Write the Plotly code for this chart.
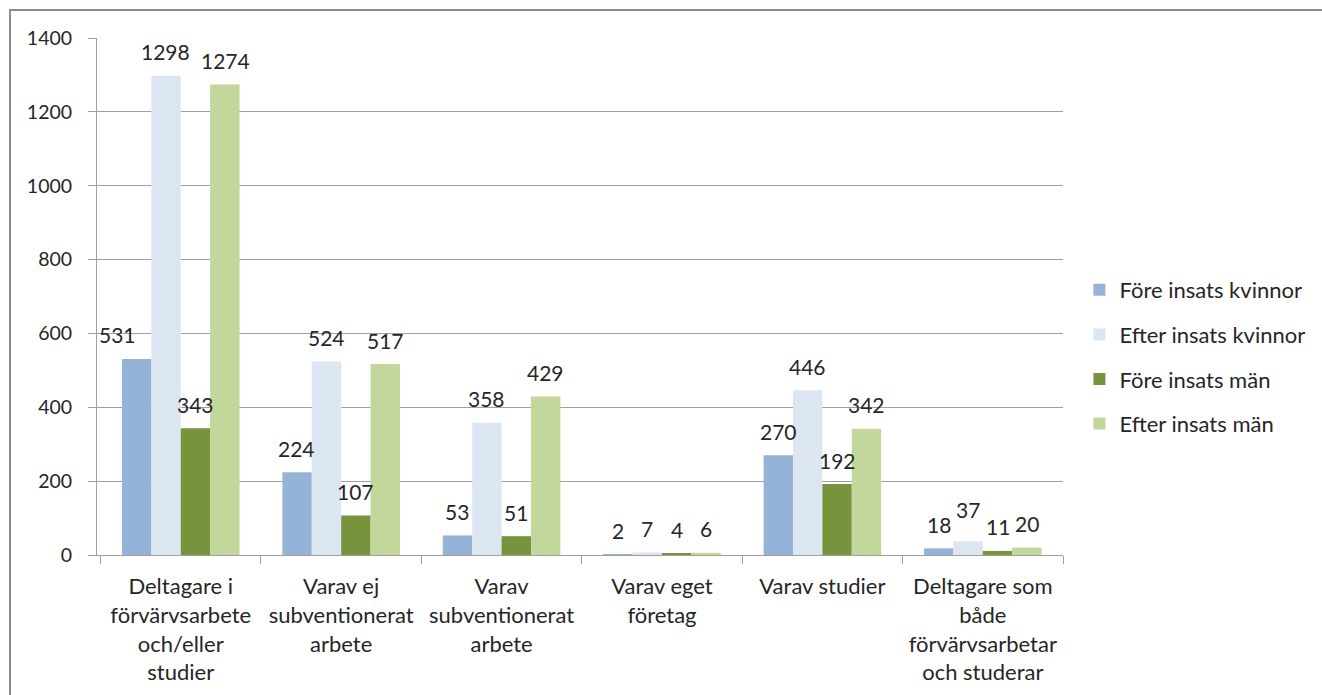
import plotly.graph_objects as go

categories = [
    "Deltagare i<br>förvärvsarbete<br>och/eller<br>studier",
    "Varav ej<br>subventionerat<br>arbete",
    "Varav<br>subventionerat<br>arbete",
    "Varav eget<br>företag",
    "Varav studier",
    "Deltagare som<br>både<br>förvärvsarbetar<br>och studerar",
]
series_names = [
    "Före insats kvinnor",
    "Efter insats kvinnor",
    "Före insats män",
    "Efter insats män",
]
fore_kvinnor = [531, 224, 53, 2, 270, 18]
efter_kvinnor = [1298, 524, 358, 7, 446, 37]
fore_man = [343, 107, 51, 4, 192, 11]
efter_man = [1274, 517, 429, 6, 342, 20]
y_ticks = [0, 200, 400, 600, 800, 1000, 1200, 1400]

series_values = [fore_kvinnor, efter_kvinnor, fore_man, efter_man]
colors = ["#95B3D7", "#DCE6F2", "#77933C", "#C3D69B"]

FONT = "Lato"
TEXT = "#262626"
AXIS = "#A0A0A0"

W, H = 1322, 695
L, R, T, B = 97, 259, 38, 140
plot_w = W - L - R
plot_h = H - T - B
BARGAP = 0.267
bar_px = plot_w / len(categories) * (1 - BARGAP) / len(series_names)

fig = go.Figure()
for i, (name, vals) in enumerate(zip(series_names, series_values)):
    fig.add_trace(go.Bar(
        name=name,
        x=categories,
        y=vals,
        marker=dict(color=colors[i], line=dict(width=0)),
        legendgroup=name,
        hoverinfo="x+y+name",
    ))

# value labels above each bar; a few nudges keep crowded labels readable
nudge = {(0, 0): (-19, 0), (1, 5): (0, 8)}
annotations = []
for i, vals in enumerate(series_values):
    for j, v in enumerate(vals):
        dx, dy = nudge.get((i, j), (0, 0))
        annotations.append(dict(
            x=categories[j], y=v, xref="x", yref="y",
            text=str(v), showarrow=False,
            xshift=(i - 1.5) * bar_px + dx, yshift=24 + dy,
            yanchor="middle", xanchor="center",
            font=dict(family=FONT, size=21, color=TEXT),
        ))

fig.update_layout(
    width=W, height=H,
    margin=dict(l=L, r=R, t=T, b=B, pad=0, autoexpand=False),
    paper_bgcolor="white",
    plot_bgcolor="white",
    barmode="group",
    bargap=BARGAP,
    bargroupgap=0,
    font=dict(family=FONT, size=22, color=TEXT),
    showlegend=True,
    legend=dict(
        x=1.017, y=0.383, xanchor="left", yanchor="middle",
        traceorder="grouped", tracegroupgap=13,
        font=dict(family=FONT, size=22, color=TEXT),
        bgcolor="rgba(0,0,0,0)", itemclick=False,
    ),
    annotations=annotations,
    shapes=[dict(
        type="rect", xref="paper", yref="paper",
        x0=(10 - L) / plot_w, x1=1.5,
        y0=-0.5, y1=1 + (T - 10) / plot_h,
        line=dict(color="#8C8C8C", width=2),
        layer="below",
    )],
)

fig.update_xaxes(
    type="category",
    showline=True, linecolor=AXIS, linewidth=1,
    ticks="outside", ticklen=8, tickcolor=AXIS, tickson="boundaries",
    showgrid=False,
    tickangle=0,
    tickfont=dict(family=FONT, size=22, color=TEXT),
    ticklabelstandoff=12,
)
fig.update_yaxes(
    range=[0, 1400],
    tickvals=y_ticks,
    showline=True, linecolor=AXIS, linewidth=1,
    ticks="outside", ticklen=8, tickcolor=AXIS,
    showgrid=True, gridcolor=AXIS, gridwidth=1,
    zeroline=False,
    tickfont=dict(family=FONT, size=19.5, color=TEXT),
    ticklabelstandoff=12,
)

fig.write_html("out.html")
